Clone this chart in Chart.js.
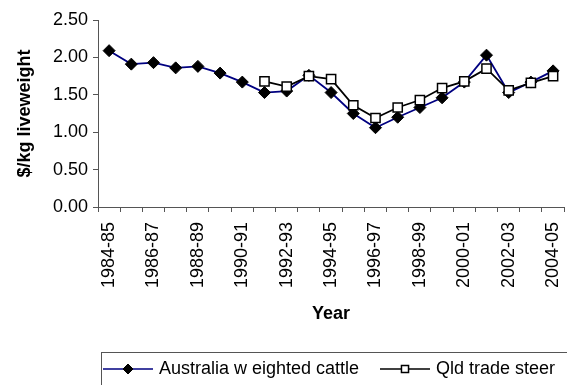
<!DOCTYPE html>
<html>
<head>
<meta charset="utf-8">
<script src="https://cdn.jsdelivr.net/npm/chart.js@4.4.0/dist/chart.umd.min.js"></script>
<style>
  html, body { margin: 0; padding: 0; background: #fff; }
  #wrap { width: 567px; height: 385px; overflow: hidden; position: relative; }
  #cattle { position: absolute; left: 0; top: 0; }
</style>
</head>
<body>
<div id="wrap"><canvas id="cattle" width="585" height="385"></canvas></div>
<script>
// financial years on the x axis
const years = [
  "1984-85", "1985-86", "1986-87", "1987-88", "1988-89", "1989-90", "1990-91",
  "1991-92", "1992-93", "1993-94", "1994-95", "1995-96", "1996-97", "1997-98",
  "1998-99", "1999-00", "2000-01", "2001-02", "2002-03", "2003-04", "2004-05"
];

// $/kg liveweight
const ausCattle = [
  2.09, 1.91, 1.93, 1.86, 1.88, 1.79, 1.67,
  1.53, 1.55, 1.76, 1.53, 1.25, 1.06, 1.20,
  1.33, 1.46, 1.67, 2.03, 1.53, 1.67, 1.82
];
const qldSteer = [
  null, null, null, null, null, null, null,
  1.68, 1.61, 1.75, 1.71, 1.36, 1.19, 1.33,
  1.43, 1.59, 1.68, 1.85, 1.56, 1.66, 1.75
];

const yTicks = [0, 0.5, 1, 1.5, 2, 2.5];

const font = "'Liberation Sans', Arial, sans-serif";

// boxed legend along the bottom, like the spreadsheet one
const boxLegend = {
  id: "boxLegend",
  afterDraw(chart) {
    const ctx = chart.ctx;
    const top = 352.5;
    ctx.save();
    ctx.strokeStyle = "#555";
    ctx.lineWidth = 1;
    ctx.strokeRect(101.5, top, 520, 60);

    const entries = [
      { ds: chart.data.datasets[1], x: 103 },
      { ds: chart.data.datasets[0], x: 380 }
    ];
    const cy = 369;
    ctx.font = "18px " + font;
    ctx.textBaseline = "middle";
    ctx.fillStyle = "#000";
    entries.forEach(e => {
      const ds = e.ds;
      ctx.strokeStyle = ds.borderColor;
      ctx.lineWidth = 1.5;
      ctx.beginPath();
      ctx.moveTo(e.x, cy);
      ctx.lineTo(e.x + 50, cy);
      ctx.stroke();
      ctx.fillStyle = ds.pointBackgroundColor;
      ctx.strokeStyle = ds.pointBorderColor;
      ctx.lineWidth = ds.pointBorderWidth;
      Chart.helpers.drawPoint(ctx, {
        pointStyle: ds.pointStyle,
        radius: 5,
        rotation: 0,
        borderWidth: ds.pointBorderWidth
      }, e.x + 25, cy);
      ctx.fillStyle = "#000";
      ctx.fillText(ds.label, e.x + 56, cy);
    });
    ctx.restore();
  }
};

new Chart(document.getElementById("cattle"), {
  type: "line",
  data: {
    labels: years,
    datasets: [
      {
        label: "Qld trade steer",
        data: qldSteer,
        borderColor: "#000",
        borderWidth: 1.8,
        pointStyle: "rect",
        pointRadius: 6.5,
        pointBackgroundColor: "#fff",
        pointBorderColor: "#000",
        pointBorderWidth: 1.5,
        order: 1
      },
      {
        label: "Australia w eighted cattle",
        data: ausCattle,
        borderColor: "#000080",
        borderWidth: 1.8,
        pointStyle: "rectRot",
        pointRadius: 6,
        pointBackgroundColor: "#000",
        pointBorderColor: "#000",
        pointBorderWidth: 1,
        order: 2
      }
    ]
  },
  options: {
    responsive: false,
    animation: false,
    spanGaps: false,
    layout: { padding: { top: 20, right: 13, bottom: 60, left: 0 } },
    plugins: {
      legend: { display: false },
      tooltip: { enabled: false }
    },
    scales: {
      x: {
        offset: true,
        grid: {
          offset: true,
          drawOnChartArea: false,
          drawTicks: true,
          tickLength: 5,
          color: "#555"
        },
        border: { display: true, color: "#555", width: 1 },
        ticks: {
          autoSkip: false,
          minRotation: 90,
          maxRotation: 90,
          padding: 10,
          color: "#000",
          font: { family: font, size: 18 },
          callback: (v, i) => (i % 2 === 0 ? years[i] : "")
        },
        title: {
          display: true,
          text: "Year",
          color: "#000",
          font: { family: font, size: 18, weight: "bold" },
          padding: { top: 4, bottom: 0 }
        },
        afterFit: s => { s.height = 118; }
      },
      y: {
        min: 0,
        max: 2.5,
        afterBuildTicks: s => { s.ticks = yTicks.map(v => ({ value: v })); },
        grid: {
          drawOnChartArea: false,
          drawTicks: true,
          tickLength: 5,
          color: "#555"
        },
        border: { display: true, color: "#555", width: 1 },
        ticks: {
          padding: 5,
          color: "#000",
          font: { family: font, size: 18 },
          callback: v => v.toFixed(2)
        },
        title: {
          display: true,
          text: "$/kg liveweight",
          color: "#000",
          font: { family: font, size: 18, weight: "bold" },
          padding: { top: 14, bottom: 0 }
        },
        afterFit: s => { s.width = 98; }
      }
    }
  },
  plugins: [boxLegend]
});
</script>
</body>
</html>
